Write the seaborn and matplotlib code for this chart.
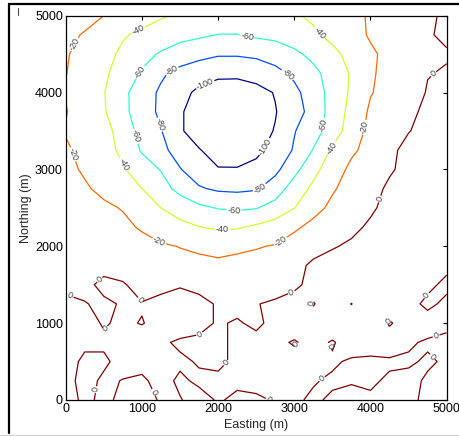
import numpy as np
import matplotlib
matplotlib.use("Agg")
import matplotlib.pyplot as plt
from matplotlib.lines import Line2D
import seaborn as sns

sns.set_style("white")
plt.rcParams['font.family'] = ['Liberation Sans', 'DejaVu Sans']

# grid coordinates (m)
easting = [0, 250, 500, 750, 1000, 1250, 1500, 1750, 2000, 2250, 2500,
           2750, 3000, 3250, 3500, 3750, 4000, 4250, 4500, 4750, 5000]
northing = [0, 250, 500, 750, 1000, 1250, 1500, 1750, 2000, 2250, 2500,
            2750, 3000, 3250, 3500, 3750, 4000, 4250, 4500, 4750, 5000]

row_0000 = [2, -1, 1, -1, -2, 0.5, 0.3, -2, 0.5, -1, -1, 0.5, 1, -1, 1, 2, 1, 2, 1, -1, -2]
row_0250 = [2, -2, 1, -0.2, -1, 2, -1, 1, 1, 1, 2, 3, 1, 0.5, -1, -0.5, -1, 1, 2, -1, -2]
row_0500 = [2, -1, -1, 2, 2, 2, 1, -0.5, -1, 1, 3, 4, 3, 2, 1, -1, -2, -1, -1, 1, -1]
row_0750 = [2, 1, 1, 1, 3, 1, -1, -2, -1, 1, 3, 2, -0.8, 3, -0.8, 4, 5, 4, 1, -1, -1]
row_1000 = [2, 2, -0.5, 1, -0.3, 2, 4, 3, -1, 1, -2, 3, 5, 4, 6, 5, 5, -0.8, 4, 4, 1]
row_1250 = [1, 0.5, -2, 1, 0.5, 3, 5, 3, -1, -3, -0.5, 2, 4, -0.5, 5, -0.2, 6, 5, 3, -2, 2]
row_1500 = [-1, -3, 3, 1, -4, -3, -1, -3, -5, -6, -7, -6, -2, 3, 5, 6, 6, 5, 4, 2, -2]
row_1750 = [-2, -4, -4, -5, -8, -11, -15, -17, -18, -17, -15, -12, -5, 3, 5, 6, 6, 6, 5, 3, 2]
row_2000 = [-3, -5, -7, -10, -14, -18, -20.5, -22, -23, -22, -21, -19, -12, -6, -1, 2, 4, 5, 6, 7, 7]
row_2250 = [-6, -9, -12, -16, -22, -29, -35, -39.5, -43, -42, -37, -31, -23, -15, -8, -3, 2, 5, 8, 9, 10]
row_2500 = [-10, -13, -17, -21, -32, -40, -48, -56, -61, -63, -61, -53, -40.5, -26, -16, -9, -2, 4, 8, 10, 11]
row_2750 = [-13, -18, -24, -32, -40, -52, -66, -78, -83, -84, -82, -70, -51, -36, -22, -13, -6, 3, 7, 9, 10]
row_3000 = [-16, -22, -30, -38, -50, -61, -79, -91, -99, -99, -95, -85, -66, -46, -29, -16, -10, -2, 5, 8, 9]
row_3250 = [-18, -24, -33, -44, -62, -75, -88, -99, -107, -108, -104, -94, -78, -59, -37, -23, -14, -3, 4, 6, 7]
row_3500 = [-21, -29, -34, -47, -68, -79, -98, -108, -112, -112, -107, -99, -81, -68, -51, -30, -15, -9, -0.5, 4, 6]
row_3750 = [-19, -29, -38, -55, -70, -84, -98, -108, -112, -112, -109, -101, -88, -73, -52, -34, -17, -11, -3, 3, 5]
row_4000 = [-21, -29, -39, -55, -71, -83, -94, -104, -109, -110, -106, -99, -85, -70, -53, -37, -21, -14, -7, 1, 4]
row_4250 = [-19.5, -27, -37, -48, -62, -77, -86, -92, -96, -96, -93, -86, -76, -65, -52, -38, -22, -15, -9, -0.5, 1]
row_4500 = [-19, -24, -33, -44, -54, -62, -69, -74, -78, -78, -76, -71, -64, -55, -45, -34, -23, -15, -9, -4, -1]
row_4750 = [-17, -21, -30, -38, -44, -49, -54, -57, -60.5, -60.5, -57, -55, -50, -43, -35, -27, -18, -12, -6, -1, 2]
row_5000 = [-12, -16, -20, -26, -32, -38, -42, -45, -48, -49, -48, -46, -42, -37, -32, -25, -18, -12, -7, -2, 2]

levels = [-100, -80, -60, -40, -20, 0]
ticks = [0, 1000, 2000, 3000, 4000, 5000]

# approximate spots where the reference prints contour labels
label_spots = [
    (100, 4637), (135, 3207), (1237, 2080), (2811, 2080), (3883, 3553),
    (975, 4767), (778, 3077), (3293, 4745), (3424, 3322), (2060, 2167),
    (2374, 4702), (975, 4268), (888, 3423), (3380, 3575), (2200, 2405),
    (1390, 4290), (1215, 3575), (2899, 4225), (2549, 2752),
    (1810, 4160), (2659, 3272),
    (4801, 4268), (4102, 2622), (2986, 1343),
    (79, 1408), (407, 1612), (931, 1257), (603, 845), (428, 130),
    (1215, 130), (1871, 715), (2068, 520), (3227, 1257), (3074, 663),
    (3468, 702), (3358, 282), (2746, 130), (4210, 1040), (4757, 1343),
    (4822, 962), (4800, 550),
]

Z = np.array([row_0000, row_0250, row_0500, row_0750, row_1000, row_1250,
              row_1500, row_1750, row_2000, row_2250, row_2500, row_2750,
              row_3000, row_3250, row_3500, row_3750, row_4000, row_4250,
              row_4500, row_4750, row_5000], dtype=float)
X, Y = np.meshgrid(easting, northing)

fig = plt.figure(figsize=(4.59, 4.36), dpi=100)
ax = fig.add_axes([0.1431, 0.0826, 0.8301, 0.8814])

cs = ax.contour(X, Y, Z, levels=levels, cmap='jet', vmin=-100, vmax=0,
                linewidths=0.9)
ax.clabel(cs, levels, inline=True, inline_spacing=1, fontsize=6.5,
          fmt='%d', colors='0.25', manual=label_spots)

ax.set_xlim(0, 5000)
ax.set_ylim(0, 5000)
ax.set_xticks(ticks)
ax.set_yticks(ticks)
ax.tick_params(direction='in', length=3, width=0.8, top=True, right=True,
               labelsize=9, pad=2, colors='black')
for s in ax.spines.values():
    s.set_color('black')
    s.set_linewidth(0.9)
ax.set_xlabel('Easting (m)', fontsize=9, labelpad=3)
ax.set_ylabel('Northing (m)', fontsize=9, labelpad=2)

# window frame
W, H = 459.0, 436.0
fig.add_artist(Line2D([9 / W, 1.0], [1 - 4.5 / H, 1 - 4.5 / H],
                      transform=fig.transFigure, color='black', lw=1.6))
fig.add_artist(Line2D([9 / W, 9 / W], [1 - 4.5 / H, 1 - 433 / H],
                      transform=fig.transFigure, color='black', lw=1.6))
fig.add_artist(Line2D([0, 1.0], [1 - 435 / H, 1 - 435 / H],
                      transform=fig.transFigure, color='#cccccc', lw=0.8))
fig.add_artist(Line2D([18.3 / W, 18.3 / W], [1 - 8.5 / H, 1 - 15 / H],
                      transform=fig.transFigure, color='0.3', lw=0.8))

fig.savefig('out.png', dpi=100)
